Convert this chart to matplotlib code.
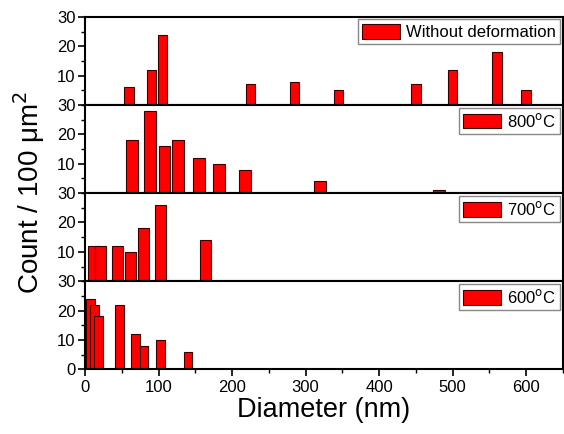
import matplotlib
matplotlib.use("Agg")
import matplotlib.pyplot as plt
from matplotlib.ticker import MultipleLocator

plt.rcParams['font.family'] = ['Liberation Sans', 'DejaVu Sans']

# bar centres (nm) and counts per 100 um^2
wd_x = [60, 90, 105, 225, 285, 345, 450, 500, 560, 600]
wd_y = [6, 12, 24, 7, 8, 5, 7, 12, 18, 5]

t800_x = [64, 88, 108, 126, 155, 182, 217, 320, 481]
t800_y = [18, 28, 16, 18, 12, 10, 8, 4, 1]

t700_x = [11, 21, 44, 62, 80, 102, 164]
t700_y = [12, 12, 12, 10, 18, 26, 14]

t600_x = [7.5, 12.5, 18, 47, 68, 80, 102, 140]
t600_y = [24, 22, 18, 22, 12, 8, 10, 6]

labels = ["Without deformation", "800$^\\mathrm{o}$C", "700$^\\mathrm{o}$C", "600$^\\mathrm{o}$C"]
widths = [13, 16, 15, 12]

series = [(wd_x, wd_y), (t800_x, t800_y), (t700_x, t700_y), (t600_x, t600_y)]

fig, axes = plt.subplots(4, 1, sharex=True, figsize=(5.64, 4.34), dpi=100)
fig.subplots_adjust(left=0.151, right=0.998, top=0.961, bottom=0.149, hspace=0)

for i, ax in enumerate(axes):
    x, y = series[i]
    ax.bar(x, y, width=widths[i], color='#ff0000', edgecolor='#3a0000',
           linewidth=0.8, label=labels[i])
    ax.set_xlim(0, 650)
    ax.set_ylim(0, 30)
    if i == 3:
        ax.set_yticks([0, 10, 20, 30])
    else:
        ax.set_yticks([10, 20, 30])
    ax.yaxis.set_minor_locator(MultipleLocator(5))
    ax.tick_params(axis='y', which='major', direction='out', length=5, width=1.2, labelsize=12, pad=2)
    ax.tick_params(axis='y', which='minor', direction='out', length=3, width=1)
    for s in ax.spines.values():
        s.set_linewidth(1.5)
    if i < 3:
        ax.tick_params(axis='x', which='both', bottom=False, labelbottom=False)
    leg = ax.legend(loc='upper right', fontsize=12, handlelength=2.3, handleheight=1.0,
                    borderaxespad=0.15, borderpad=0.25, handletextpad=0.35,
                    fancybox=False, framealpha=1)
    leg.get_frame().set_edgecolor('#888888')
    leg.get_frame().set_linewidth(1)

ax = axes[3]
ax.set_xticks([0, 100, 200, 300, 400, 500, 600])
ax.xaxis.set_minor_locator(MultipleLocator(50))
ax.tick_params(axis='x', which='major', direction='out', length=5, width=1.2, labelsize=12, pad=3)
ax.tick_params(axis='x', which='minor', direction='out', length=3, width=1)
ax.set_xlabel("Diameter (nm)", fontsize=19.5, labelpad=1)

fig.text(0.052, 0.557, "Count / 100 \u03bcm$^2$", rotation=90, fontsize=20,
         ha='center', va='center')

fig.savefig("out.png", dpi=100)
